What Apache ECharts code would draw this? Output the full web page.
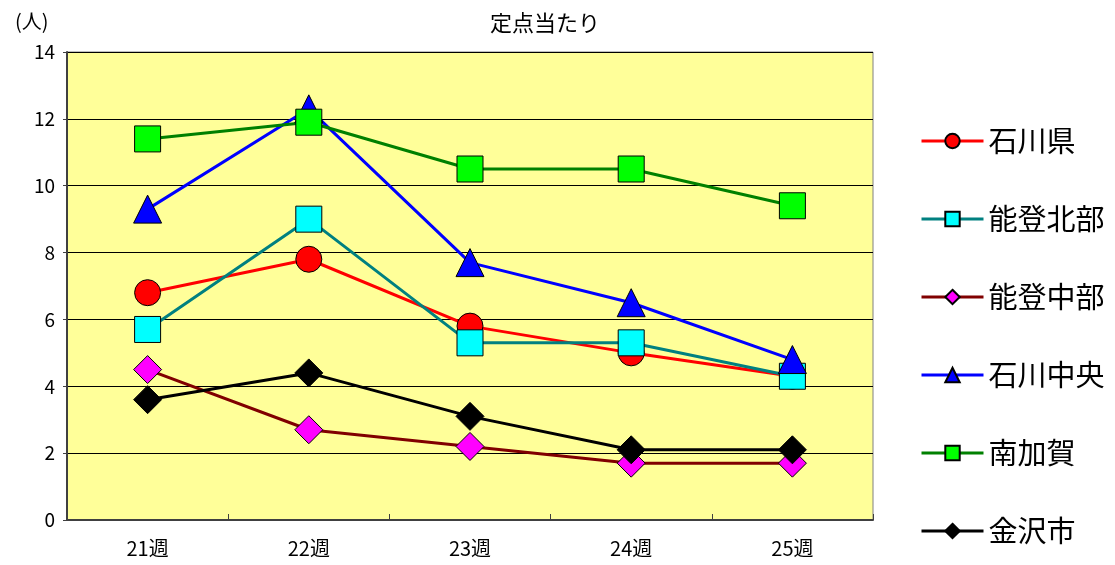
<!DOCTYPE html>
<html><head><meta charset="utf-8">
<script src="https://cdn.jsdelivr.net/npm/echarts@6/dist/echarts.min.js"></script>
<style>html,body{margin:0;padding:0;background:#fff}#c{width:1115px;height:565px}</style>
</head><body><div id="c"></div>
<script>
const categories = ['21週','22週','23週','24週','25週'];
const ishikawaken = [6.8, 7.8, 5.8, 5.0, 4.3];
const notoHokubu = [5.7, 9.0, 5.3, 5.3, 4.3];
const notoChubu = [4.5, 2.7, 2.2, 1.7, 1.7];
const ishikawaChuo = [9.3, 12.3, 7.7, 6.5, 4.8];
const minamiKaga = [11.4, 11.9, 10.5, 10.5, 9.4];
const kanazawa = [3.6, 4.4, 3.1, 2.1, 2.1];
const yTicks = [0, 2, 4, 6, 8, 10, 12, 14];

const font = '"Noto Sans CJK JP", "Noto Sans", sans-serif';
function mk(name, data, lineColor, fill, symbol, size) {
  return {
    name, type: 'line', data, symbol, symbolSize: size,
    lineStyle: { color: lineColor, width: 3 },
    itemStyle: { color: fill, borderColor: '#000', borderWidth: 1 },
    emphasis: { disabled: true }, animation: false
  };
}
const chart = echarts.init(document.getElementById('c'), null, { renderer: 'canvas' });
chart.setOption({
  animation: false,
  backgroundColor: '#fff',
  title: [
    { text: '定点当たり', left: 540, top: 7, textAlign: 'center',
      textStyle: { fontFamily: font, fontSize: 22, fontWeight: 'normal', color: '#000' } },
    { text: '(人)', left: 10, top: 6,
      textStyle: { fontFamily: font, fontSize: 20, fontWeight: 'normal', color: '#000' } }
  ],
  grid: { left: 67, right: 242, top: 52, bottom: 45, show: true, backgroundColor: '#FFFF99', borderColor: '#808080', borderWidth: 1 },
  legend: {
    orient: 'vertical', left: 915, top: 119, itemWidth: 62, itemHeight: 18, itemGap: 44,
    lineStyle: { width: 3 },
    textStyle: { fontFamily: font, fontSize: 29, color: '#000', lineHeight: 34 },
    data: ['石川県','能登北部','能登中部','石川中央','南加賀','金沢市']
  },
  xAxis: {
    type: 'category', data: categories, boundaryGap: true,
    axisLine: { lineStyle: { color: '#404040', width: 2 } },
    axisTick: { show: true, inside: true, length: 6, lineStyle: { color: '#404040' } },
    axisLabel: { fontFamily: font, fontSize: 20, color: '#000', margin: 18 }
  },
  yAxis: {
    type: 'value', min: 0, max: 14, interval: 2,
    axisLine: { show: true, lineStyle: { color: '#404040', width: 2 } },
    axisTick: { show: true, length: 4, lineStyle: { color: '#404040' } },
    splitLine: { lineStyle: { color: '#000', width: 1 } },
    axisLabel: { fontFamily: font, fontSize: 19, color: '#000', margin: 12,
      formatter: v => yTicks.includes(v) ? String(v) : '' }
  },
  series: [
    mk('石川県', ishikawaken, '#FF0000', '#FF0000', 'circle', 26),
    mk('能登北部', notoHokubu, '#008080', '#00FFFF', 'rect', 26),
    mk('能登中部', notoChubu, '#800000', '#FF00FF', 'diamond', 28),
    mk('石川中央', ishikawaChuo, '#0000FF', '#0000FF', 'triangle', 28),
    mk('南加賀', minamiKaga, '#008000', '#00FF00', 'rect', 26),
    mk('金沢市', kanazawa, '#000000', '#000000', 'diamond', 28)
  ]
});
</script></body></html>
